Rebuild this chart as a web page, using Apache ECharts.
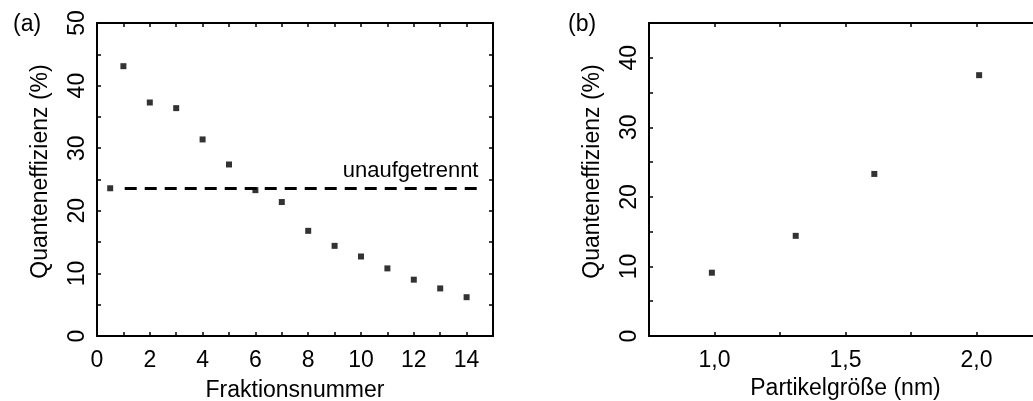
<!DOCTYPE html>
<html>
<head>
<meta charset="utf-8">
<style>
  html, body { margin: 0; padding: 0; background: #fff; }
  #chart { width: 1033px; height: 401px; }
</style>
<script src="https://cdn.jsdelivr.net/npm/echarts@6/dist/echarts.min.js"></script>
</head>
<body>
<div id="chart"></div>
<script>
// (a) quantum efficiency per fraction number
const fractionNumbers = [0.5, 1, 2, 3, 4, 5, 6, 7, 8, 9, 10, 11, 12, 13, 14];
const fractionEfficiency = [23.6, 43.1, 37.3, 36.4, 31.4, 27.4, 23.3, 21.4, 16.8, 14.4, 12.7, 10.8, 9.0, 7.6, 6.2];

// reference level of the unseparated sample
const unseparatedValue = 23.6;
const unseparatedSpan = [1.05, 14.45];
const unseparatedLabel = 'unaufgetrennt';

// (b) quantum efficiency versus particle size
const particleSizes = [0.99, 1.31, 1.61, 2.01];
const sizeEfficiency = [9.1, 14.4, 23.3, 37.5];

const panelLabels = ['(a)', '(b)'];
const yName = 'Quanteneffizienz (%)';
const xNameA = 'Fraktionsnummer';
const xNameB = 'Partikelgröße (nm)';

const FONT = '"Liberation Sans", Arial, sans-serif';
const FS = 23;
const LINE = { show: true, onZero: false, lineStyle: { color: '#000', width: 2 } };
const TICK = { show: true, inside: true, length: 4, lineStyle: { color: '#000', width: 1.5 } };

function pairs(xs, ys) { return xs.map((x, i) => [x, ys[i]]); }

function yLabels(step) {
  return {
    show: true, rotate: 90, margin: 8, color: '#000', fontSize: FS, fontFamily: FONT,
    formatter: v => (Math.abs(v % step) < 1e-9 ? String(v) : '')
  };
}

const chart = echarts.init(document.getElementById('chart'), null, { renderer: 'canvas' });

chart.setOption({
  animation: false,
  backgroundColor: '#fff',
  textStyle: { fontFamily: FONT },
  title: [
    { text: panelLabels[0], left: 8, top: 8, textStyle: { fontSize: FS, fontWeight: 'normal', color: '#000', fontFamily: FONT } },
    { text: panelLabels[1], left: 563, top: 8, textStyle: { fontSize: FS, fontWeight: 'normal', color: '#000', fontFamily: FONT } }
  ],
  grid: [
    { left: 97, top: 23, width: 396, height: 313, containLabel: false, outerBoundsMode: 'none' },
    { left: 649, top: 23, width: 393, height: 313, containLabel: false, outerBoundsMode: 'none' }
  ],
  xAxis: [
    {
      gridIndex: 0, type: 'value', min: 0, max: 15, interval: 1, position: 'bottom',
      name: xNameA, nameLocation: 'middle', nameGap: 43,
      nameTextStyle: { fontSize: FS, color: '#000', fontFamily: FONT },
      axisLine: LINE, axisTick: TICK, splitLine: { show: false },
      axisLabel: {
        margin: 13, color: '#000', fontSize: FS, fontFamily: FONT, showMaxLabel: false,
        formatter: v => (v % 2 === 0 ? String(v) : '')
      }
    },
    {
      gridIndex: 0, type: 'value', min: 0, max: 15, interval: 1, position: 'top',
      axisLine: LINE, axisTick: TICK, axisLabel: { show: false }, splitLine: { show: false }
    },
    {
      gridIndex: 1, type: 'value', min: 0.75, max: 2.25, interval: 0.25, position: 'bottom',
      name: xNameB, nameLocation: 'middle', nameGap: 41,
      nameTextStyle: { fontSize: FS, color: '#000', fontFamily: FONT },
      axisLine: LINE, axisTick: TICK, splitLine: { show: false },
      axisLabel: {
        margin: 13, color: '#000', fontSize: FS, fontFamily: FONT,
        formatter: v => (Math.abs((v * 2) % 1) < 1e-9 ? v.toFixed(1).replace('.', ',') : '')
      }
    },
    {
      gridIndex: 1, type: 'value', min: 0.75, max: 2.25, interval: 0.25, position: 'top',
      axisLine: LINE, axisTick: TICK, axisLabel: { show: false }, splitLine: { show: false }
    }
  ],
  yAxis: [
    {
      gridIndex: 0, type: 'value', min: 0, max: 50, interval: 5, position: 'left',
      name: yName, nameLocation: 'middle', nameGap: 45,
      nameTextStyle: { fontSize: FS, color: '#000', fontFamily: FONT, padding: [0, 0, 0, 16] },
      axisLine: LINE, axisTick: TICK, splitLine: { show: false },
      axisLabel: yLabels(10)
    },
    {
      gridIndex: 0, type: 'value', min: 0, max: 50, interval: 5, position: 'right',
      axisLine: LINE, axisTick: TICK, axisLabel: { show: false }, splitLine: { show: false }
    },
    {
      gridIndex: 1, type: 'value', min: 0, max: 45, interval: 5, position: 'left',
      name: yName, nameLocation: 'middle', nameGap: 45,
      nameTextStyle: { fontSize: FS, color: '#000', fontFamily: FONT, padding: [0, 0, 0, 16] },
      axisLine: LINE, axisTick: TICK, splitLine: { show: false },
      axisLabel: yLabels(10)
    },
    {
      gridIndex: 1, type: 'value', min: 0, max: 45, interval: 5, position: 'right',
      axisLine: LINE, axisTick: TICK, axisLabel: { show: false }, splitLine: { show: false }
    }
  ],
  series: [
    {
      type: 'scatter', xAxisIndex: 0, yAxisIndex: 0,
      data: pairs(fractionNumbers, fractionEfficiency),
      symbol: 'rect', symbolSize: 6, itemStyle: { color: '#000' },
      markLine: {
        silent: true, symbol: 'none',
        lineStyle: { color: '#000', width: 3, type: [12, 8] },
        label: {
          show: true, position: 'insideEndTop', formatter: unseparatedLabel,
          color: '#000', fontSize: 22, fontFamily: FONT, distance: [0, 6]
        },
        data: [[
          { coord: [unseparatedSpan[0], unseparatedValue] },
          { coord: [unseparatedSpan[1], unseparatedValue] }
        ]]
      }
    },
    {
      type: 'scatter', xAxisIndex: 2, yAxisIndex: 2,
      data: pairs(particleSizes, sizeEfficiency),
      symbol: 'rect', symbolSize: 6, itemStyle: { color: '#000' }
    }
  ]
});
</script>
</body>
</html>
